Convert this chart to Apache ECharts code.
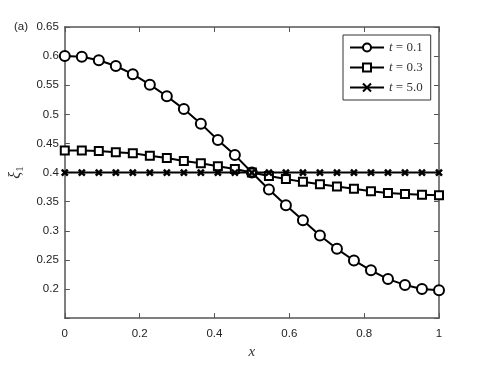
<!DOCTYPE html>
<html>
<head>
<meta charset="utf-8">
<script src="https://cdn.jsdelivr.net/npm/echarts@6/dist/echarts.min.js"></script>
<style>
  html, body { margin: 0; padding: 0; background: #fff; }
  #main { width: 485px; height: 365px; }
</style>
</head>
<body>
<div id="main"></div>
<script>
// grid points along x
var xs = [0, 0.0455, 0.0909, 0.1364, 0.1818, 0.2273, 0.2727, 0.3182, 0.3636, 0.4091, 0.4545, 0.5,
  0.5455, 0.5909, 0.6364, 0.6818, 0.7273, 0.7727, 0.8182, 0.8636, 0.9091, 0.9545, 1];
// xi_1 at t = 0.1
var t01 = [0.600, 0.599, 0.593, 0.583, 0.569, 0.551, 0.531, 0.509, 0.484, 0.456, 0.430, 0.400,
  0.371, 0.344, 0.318, 0.292, 0.269, 0.249, 0.232, 0.217, 0.207, 0.200, 0.198];
// xi_1 at t = 0.3
var t03 = [0.438, 0.438, 0.437, 0.435, 0.433, 0.429, 0.425, 0.420, 0.416, 0.411, 0.406, 0.400,
  0.394, 0.389, 0.384, 0.380, 0.376, 0.372, 0.368, 0.365, 0.363, 0.362, 0.361];
// xi_1 at t = 5.0
var t50 = [0.4, 0.4, 0.4, 0.4, 0.4, 0.4, 0.4, 0.4, 0.4, 0.4, 0.4, 0.4,
  0.4, 0.4, 0.4, 0.4, 0.4, 0.4, 0.4, 0.4, 0.4, 0.4, 0.4];
var seriesNames = ["t = 0.1", "t = 0.3", "t = 5.0"];
var yTicks = [0.2, 0.25, 0.3, 0.35, 0.4, 0.45, 0.5, 0.55, 0.6, 0.65];

function pairs(ys) {
  return xs.map(function (x, i) { return [x, ys[i]]; });
}

var axisGray = "#555";
var tickFont = { color: "#222", fontSize: 11.5, fontFamily: "Liberation Sans, Arial, sans-serif" };
var serif = "Liberation Serif, DejaVu Serif, serif";
var crossPath = "path://M0,0L10,10M10,0L0,10";

var myChart = echarts.init(document.getElementById("main"));

function lineSeries(name, ys, symbol, size, bw) {
  return {
    name: name,
    type: "line",
    data: pairs(ys),
    symbol: symbol,
    symbolSize: size,
    showAllSymbol: true,
    lineStyle: { color: "#000", width: 2 },
    itemStyle: { color: "#000", borderColor: "#000", borderWidth: bw },
    emphasis: { disabled: true },
    animation: false
  };
}

myChart.setOption({
  animation: false,
  grid: { left: 63, right: 46, top: 27, bottom: 42 },
  legend: {
    orient: "vertical",
    left: 343,
    top: 35,
    padding: [6, 8, 6, 6],
    itemGap: 7,
    itemWidth: 34,
    itemHeight: 10,
    borderColor: "#333",
    borderWidth: 1,
    backgroundColor: "#fff",
    data: seriesNames,
    formatter: function (n) { return "{i|t}{n| = " + n.split("= ")[1] + "}"; },
    textStyle: {
      rich: {
        i: { fontFamily: serif, fontStyle: "italic", fontSize: 13, color: "#333" },
        n: { fontFamily: serif, fontSize: 13, color: "#333" }
      }
    }
  },
  xAxis: [{
    type: "value", min: 0, max: 1, interval: 0.2,
    name: "x", nameLocation: "middle", nameGap: 19,
    nameTextStyle: { fontFamily: serif, fontStyle: "italic", fontSize: 15, color: "#333" },
    axisLine: { onZero: false, lineStyle: { color: axisGray, width: 1.5 } },
    axisTick: { inside: true, length: 5, lineStyle: { color: axisGray } },
    axisLabel: Object.assign({ margin: 10, formatter: function (v) { return String(parseFloat(v.toFixed(2))); } }, tickFont),
    splitLine: { show: false }
  }, {
    type: "value", position: "top", min: 0, max: 1, interval: 0.2,
    axisLine: { onZero: false, lineStyle: { color: axisGray, width: 1.5 } },
    axisTick: { inside: true, length: 5, lineStyle: { color: axisGray } },
    axisLabel: { show: false },
    splitLine: { show: false }
  }],
  yAxis: [{
    type: "value", min: 0.15, max: 0.65, interval: 0.05,
    name: "{g|ξ}{s|1}", nameLocation: "middle", nameGap: 36, nameRotate: 90,
    nameTextStyle: {
      color: "#333",
      rich: {
        g: { fontFamily: serif, fontStyle: "italic", fontSize: 16, color: "#333" },
        s: { fontFamily: serif, fontSize: 11, color: "#333", verticalAlign: "bottom", padding: [8, 0, 0, 0] }
      }
    },
    axisLine: { onZero: false, lineStyle: { color: axisGray, width: 1.5 } },
    axisTick: { inside: true, length: 5, lineStyle: { color: axisGray } },
    axisLabel: Object.assign({
      margin: 6,
      formatter: function (v) {
        var r = parseFloat(v.toFixed(2));
        return yTicks.indexOf(r) >= 0 ? String(r) : "";
      }
    }, tickFont),
    splitLine: { show: false }
  }, {
    type: "value", position: "right", min: 0.15, max: 0.65, interval: 0.05,
    axisLine: { onZero: false, lineStyle: { color: axisGray, width: 1.5 } },
    axisTick: { inside: true, length: 5, lineStyle: { color: axisGray } },
    axisLabel: { show: false },
    splitLine: { show: false }
  }],
  graphic: [{
    type: "text", left: 14, top: 21,
    style: { text: "(a)", fontSize: 11.5, fontFamily: "Liberation Sans, Arial, sans-serif", fill: "#222" }
  }],
  series: [
    lineSeries(seriesNames[0], t01, "emptyCircle", 10, 2),
    lineSeries(seriesNames[1], t03, "emptyRect", 8, 2),
    lineSeries(seriesNames[2], t50, crossPath, 6, 2.5)
  ]
});

window.addEventListener("resize", function () {
  myChart.resize();
});
</script>
</body>
</html>
